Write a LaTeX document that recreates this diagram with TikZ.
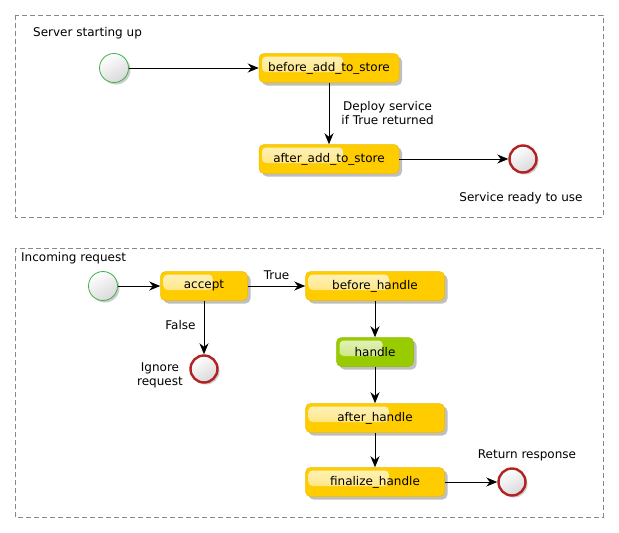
\documentclass[tikz,border=0pt]{standalone}
\usepackage{fontspec}
\setmainfont{DejaVu Sans}
\usetikzlibrary{shadows,arrows.meta,calc}
\definecolor{boxyellow}{HTML}{FFCC00}
\definecolor{boxgreen}{HTML}{99CC00}
\definecolor{startgreen}{HTML}{3BB34A}
\definecolor{endred}{HTML}{B22222}
\definecolor{clusterline}{HTML}{888888}
\tikzset{
  actbox/.style={draw=#1!92!black, fill=#1, line width=0.5pt, rounded corners=5pt,
    minimum height=29pt, inner sep=0pt,
    drop shadow={shadow xshift=3pt, shadow yshift=-3pt, opacity=0.25, fill=black},
    path picture={\shade[top color=#1!25!white, bottom color=#1!60!white, rounded corners=4pt]
      ($(path picture bounding box.north west)+(3,3)$) rectangle
      ($(path picture bounding box.west)!0.6!(path picture bounding box.east)+(0,4)$);}},
  startnode/.style={circle, minimum size=29pt, inner sep=0pt, draw=startgreen, line width=0.8pt,
    shading=axis, top color=white, bottom color=gray!30, shading angle=30,
    drop shadow={shadow xshift=2pt, shadow yshift=-2pt, opacity=0.2, fill=black}},
  endnode/.style={circle, minimum size=27pt, inner sep=0pt, draw=endred, line width=2.4pt,
    shading=axis, top color=white, bottom color=gray!30, shading angle=30,
    drop shadow={shadow xshift=2pt, shadow yshift=-2pt, opacity=0.2, fill=black}},
  cluster/.style={draw=clusterline, dash pattern=on 5pt off 3pt, line width=0.6pt},
  flow/.style={-{Stealth[length=11pt,width=9pt,inset=3.5pt]}, line width=0.9pt},
  lbl/.style={inner sep=0pt, align=center},
}
\begin{document}
\begin{tikzpicture}[x=1pt,y=-1pt,font=\fontsize{12}{14}\selectfont]
\useasboundingbox (0,0) rectangle (619,533);
% clusters
\draw[cluster] (15,15) rectangle (603,217);
\draw[cluster] (15,248) rectangle (603,517);
\node[lbl, anchor=west] (t1) at (33,33) {Server starting up};
\node[lbl, anchor=west] (t2) at (21,258) {Incoming request};
% cluster 1
\node[startnode] (s1) at (114,68) {};
\node[actbox=boxyellow, minimum width=140pt] (bats) at (329,68) {before\_add\_to\_store};
\node[actbox=boxyellow, minimum width=140pt] (aats) at (329,159) {after\_add\_to\_store};
\node[endnode] (e1) at (523,159) {};
\node[lbl] (l1) at (521,198) {Service ready to use};
\draw[flow] (s1) -- (bats);
\draw[flow] (bats) -- (aats) node[lbl, midway, right=12pt] {Deploy service\\if True returned};
\draw[flow] (aats) -- (e1);
% cluster 2
\node[startnode] (s2) at (103,286) {};
\node[actbox=boxyellow, minimum width=87pt] (acc) at (204,286) {accept};
\node[actbox=boxyellow, minimum width=139pt] (bh) at (375,286) {before\_handle};
\node[actbox=boxgreen, minimum width=77pt] (h) at (375,352) {handle};
\node[actbox=boxyellow, minimum width=139pt] (ah) at (375,418) {after\_handle};
\node[actbox=boxyellow, minimum width=139pt] (fh) at (375,482) {finalize\_handle};
\node[endnode] (e2) at (204,369) {};
\node[lbl, anchor=east] (l2) at (183,375) {Ignore\\request};
\node[endnode] (e3) at (512,482) {};
\node[lbl] (l3) at (527,455) {Return response};
\draw[flow] (s2) -- (acc);
\draw[flow] (acc) -- (bh) node[lbl, midway, above=6pt] {True};
\draw[flow] (acc) -- (e2) node[lbl, pos=0.45, left=8pt] {False};
\draw[flow] (bh) -- (h);
\draw[flow] (h) -- (ah);
\draw[flow] (ah) -- (fh);
\draw[flow] (fh) -- (e3);
\end{tikzpicture}
\end{document}
